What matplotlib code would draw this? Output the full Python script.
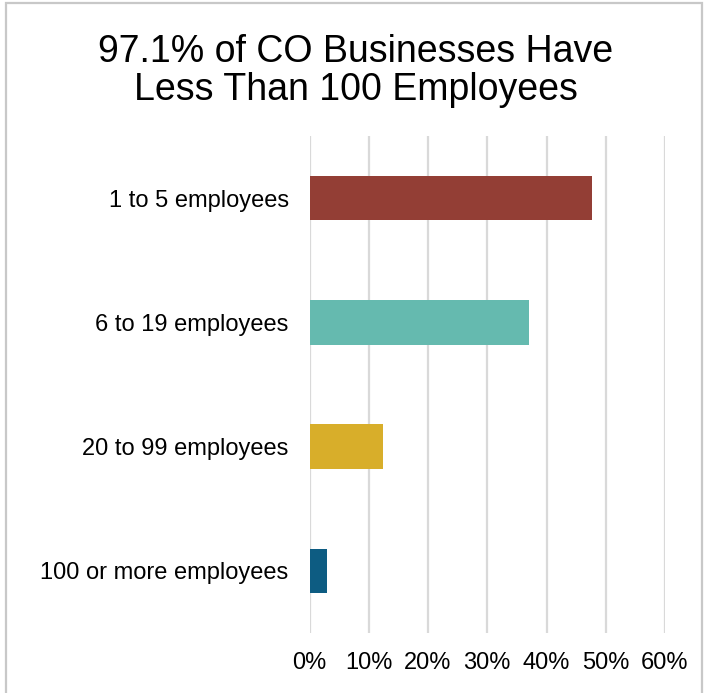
import matplotlib
matplotlib.use("Agg")
import matplotlib.pyplot as plt
from matplotlib.patches import Rectangle
from matplotlib.ticker import FuncFormatter

categories = ["1 to 5 employees", "6 to 19 employees", "20 to 99 employees", "100 or more employees"]
shares = [47.6, 37.1, 12.4, 2.9]
colors = ["#933E35", "#65BAAF", "#D8AE2A", "#0D5C82"]
xticks = [0, 10, 20, 30, 40, 50, 60]
title = "97.1% of CO Businesses Have\nLess Than 100 Employees"

plt.rcParams['font.family'] = ['Liberation Sans', 'DejaVu Sans']

fig = plt.figure(figsize=(7.06, 6.93), dpi=100)
ax = fig.add_axes([309.5/706, 1-633/693, (665-309.5)/706, (633-136)/693])

y = list(range(len(categories)))
ax.barh(y, shares, height=0.36, color=colors, zorder=3)
ax.set_ylim(len(categories)-0.5, -0.5)
ax.set_xlim(0, 60)
ax.set_xticks(xticks)
ax.xaxis.set_major_formatter(FuncFormatter(lambda v, p: f"{v:.0f}%"))
ax.set_yticks(y)
ax.set_yticklabels(categories)
ax.grid(axis='x', color='#d9d9d9', linewidth=1.6, zorder=0)
for s in ax.spines.values():
    s.set_visible(False)
ax.tick_params(axis='both', length=0, labelsize=17, colors='black')
ax.tick_params(axis='x', pad=14)
ax.tick_params(axis='y', pad=15)

fig.text(0.5 + 3/706, 1 - 71/693, title, ha='center', va='center', fontsize=27, linespacing=1.05)

fig.patches.append(Rectangle((5.5/706, -0.05), (702-5.5)/706, 1 - 3/693 + 0.05, transform=fig.transFigure,
                             fill=False, edgecolor='#c8c8c8', linewidth=1.6))

fig.savefig("out.png", dpi=100)
